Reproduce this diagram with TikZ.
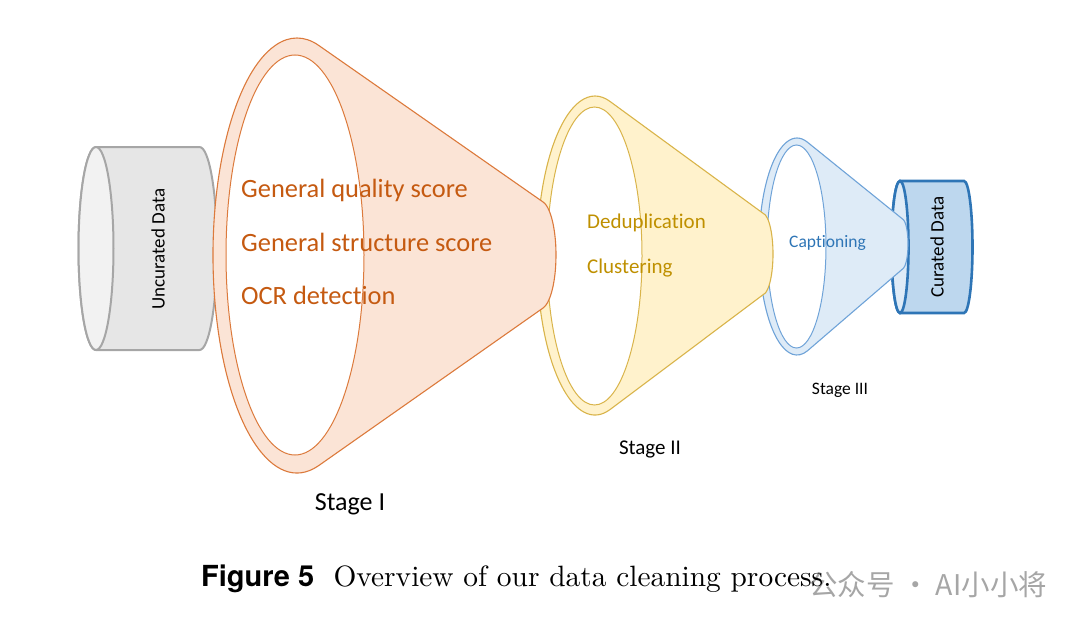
\documentclass[tikz,border=0pt]{standalone}
\usepackage{fontspec}
\newfontfamily\calibri[Ligatures=NoCommon]{Carlito}
\newfontfamily\heros{TeX Gyre Heros}
\newfontfamily\capserif[Extension=.otf]{lmroman10-regular}
\newfontfamily\cjk{Noto Sans CJK SC}
\usepackage{tikz}
\usetikzlibrary{calc,positioning}
\usepackage{xcolor}
\definecolor{ash}{HTML}{A6A6A6}
\definecolor{ashfill}{HTML}{E6E6E6}
\definecolor{ashface}{HTML}{F2F2F2}
\definecolor{rust}{HTML}{C55A11}
\definecolor{rustline}{HTML}{DC7A3C}
\definecolor{peach}{HTML}{FBE4D6}
\definecolor{gold}{HTML}{BF9000}
\definecolor{goldline}{HTML}{D9B44A}
\definecolor{cream}{HTML}{FFF2CC}
\definecolor{navy}{HTML}{2E75B6}
\definecolor{skyline}{HTML}{6FA3D8}
\definecolor{sky}{HTML}{DEEBF7}
\definecolor{steel}{HTML}{BDD7EE}
\tikzset{graydrum/.style={draw=ash,fill=ashfill,line width=2pt},grayface/.style={draw=ash,fill=ashface,line width=2pt},
bluedrum/.style={draw=navy,fill=steel,line width=2.6pt},blueface/.style={draw=navy,fill=sky,line width=2.6pt},
funnelI/.style={draw=rustline,fill=peach,line width=1.1pt},funnelII/.style={draw=goldline,fill=cream,line width=1.1pt},
funnelIII/.style={draw=skyline,fill=sky,line width=1.1pt},
hole/.style={draw=#1,fill=white,line width=1pt},
drumlabel/.style={font=\calibri\fontsize{19}{22}\selectfont,rotate=90},
stagelabel/.style={font=\calibri,text=black},
filterI/.style={font=\calibri\fontsize{26.4}{30}\selectfont,text=rust,anchor=west,inner sep=0pt},
filterII/.style={font=\calibri\fontsize{21}{25}\selectfont,text=gold,anchor=west,inner sep=0pt},
filterIII/.style={font=\calibri\fontsize{17.5}{21}\selectfont,text=navy,anchor=west,inner sep=0pt}}
\begin{document}
\begin{tikzpicture}[x=1pt,y=1pt,yscale=-1]
\useasboundingbox (0,0) rectangle (1080,629);
% uncurated drum
\draw[graydrum] (96,147) -- (199.5,147) arc[start angle=-90,end angle=90,x radius=17.5pt,y radius=101.5pt] -- (96,350) arc[start angle=90,end angle=270,x radius=17.5pt,y radius=101.5pt] -- cycle;
\draw[grayface] (96,248.5) ellipse[x radius=17.5pt,y radius=101.5pt];
\node[drumlabel] (uncur) at (158,249) {Uncurated Data};
% curated drum
\draw[bluedrum] (900,181) -- (964,181) arc[start angle=-90,end angle=90,x radius=8.5pt,y radius=66pt] -- (900,313) arc[start angle=90,end angle=270,x radius=8.5pt,y radius=66pt] -- cycle;
\draw[blueface] (900,247) ellipse[x radius=8.5pt,y radius=66pt];
\node[drumlabel] (cur) at (937,247) {Curated Data};
% stage III
\coordinate (mouthIII) at (797,246.5);
\coordinate (tipIII) at (902,244);
\draw[funnelIII] ($(mouthIII)+(-74:38 and 108.5)$) -- ($(tipIII)+(-75:6 and 25)$) arc[start angle=-75,end angle=75,x radius=6pt,y radius=25pt] -- ($(mouthIII)+(74:38 and 108.5)$) arc[start angle=74,end angle=286,x radius=38pt,y radius=108.5pt] -- cycle;
\draw[hole=skyline] (796.5,246.5) ellipse[x radius=29.5pt,y radius=101.5pt];
% stage II
\coordinate (mouthII) at (595,255.5);
\coordinate (tipII) at (762,254);
\draw[funnelII] ($(mouthII)+(-75:58 and 159.5)$) -- ($(tipII)+(-72:11 and 41)$) arc[start angle=-72,end angle=72,x radius=11pt,y radius=41pt] -- ($(mouthII)+(75:58 and 159.5)$) arc[start angle=75,end angle=285,x radius=58pt,y radius=159.5pt] -- cycle;
\draw[hole=goldline] (594.5,256) ellipse[x radius=47.5pt,y radius=149pt];
% stage I
\coordinate (mouthI) at (297,255.5);
\coordinate (tipI) at (540,255);
\draw[funnelI] ($(mouthI)+(-75.5:84 and 217.5)$) -- ($(tipI)+(-78:16 and 54)$) arc[start angle=-78,end angle=78,x radius=16pt,y radius=54pt] -- ($(mouthI)+(75.5:84 and 217.5)$) arc[start angle=75.5,end angle=284.5,x radius=84pt,y radius=217.5pt] -- cycle;
\draw[hole=rustline] (295,255) ellipse[x radius=69pt,y radius=200pt];
% filters
\node[filterI] (quality) at (241,190) {General quality score};
\node[filterI] (structure) at (241,242) {General structure score};
\node[filterI] (ocr) at (241,295) {OCR detection};
\node[filterII] (dedup) at (587,223) {Deduplication};
\node[filterII] (cluster) at (587,268) {Clustering};
\node[filterIII] (caption) at (789,243) {Captioning};
% stage names
\node[stagelabel,font=\calibri\fontsize{26}{30}\selectfont] (stageI) at (350,504) {Stage I};
\node[stagelabel,font=\calibri\fontsize{21}{25}\selectfont] (stageII) at (650,449) {Stage II};
\node[stagelabel,font=\calibri\fontsize{17.5}{21}\selectfont] (stageIII) at (840,390) {Stage III};
% caption, watermark underneath
\node[anchor=base west,inner sep=0pt,text=black!35,font=\cjk\fontsize{28.5}{33}\selectfont] (mark) at (809,595) {公众号 · AI小小将};
\node[anchor=base west,inner sep=0pt,font=\heros\bfseries\fontsize{29}{34}\selectfont] (figno) at (201,586) {Figure 5};
\node[anchor=base west,inner sep=0pt,font=\capserif\fontsize{29.4}{34}\selectfont] (figtext) at ([xshift=19pt]figno.base east) {Overview of our data cleaning process.};
\end{tikzpicture}
\end{document}
